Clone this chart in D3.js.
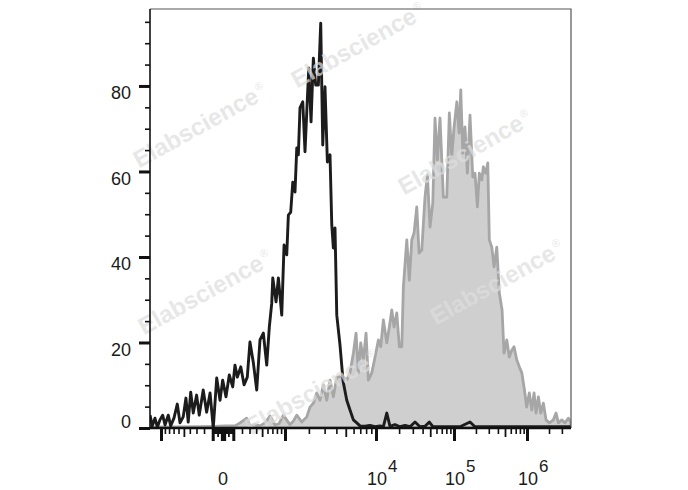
<!DOCTYPE html>
<html><head><meta charset="utf-8">
<script src="https://cdn.jsdelivr.net/npm/d3@7"></script>
<style>body{margin:0;background:#fff;} svg{display:block;}</style>
</head><body>
<script>
// ---- data (fluorescence intensity vs. % of max) ----
const isoX = [-1323,-1250,-1170,-1100,-1028,-956,-897,-819,-764,-692,-624,-571,-512,-464,-426,-386,-347,-298,-262,-210,-168,-129,-94,-59,-27,-3,27,59,94,118,145,185,226,269,306,355,409,463,522,585,636,686,708,780,834,916,975,1057,1112,1195,1271,1358,1429,1496,1567,1693,1801,1889,1993,2118,2251,2394,2561,2720,2863,3028,3212,3427,3578,3719,3870,4038,4363,4692,5119,5522,5971,6459,6958,7800,8737,9780,11290,12500,13850,15250,17700,20540,23815,27600,31985,37045,42895,48700,54000,66500,89000,120900,165800,194100,311500,584900,1099000,2062000,4000000];
const isoY = [3.0,0.5,2.3,0.2,1.9,3.0,0.7,3.0,0.5,2.3,5.6,1.2,2.6,7.0,1.4,8.4,3.5,7.7,3.0,8.9,3.7,8.2,0,11.7,6.5,11.2,7.3,12.4,9.6,14.7,11.9,14.3,10.1,11.9,20.1,15.4,8.9,20.6,22.2,14.7,23.6,29.2,35.1,29.5,35.1,26.4,42.8,40.5,49.8,50.5,57.5,55.2,65.5,63.9,74.9,76.3,64.6,73.9,84.2,71.6,86.5,80.2,80.2,94.7,66.2,79.8,62.2,63.9,47.5,42.1,46.8,26.4,19.4,11.0,6.5,4.2,1.9,1.2,0.5,0.4,0.6,0.3,0.5,0.3,3.5,0.4,0.8,0.3,0.6,0.3,1.4,0.3,0.4,1.4,0.3,0.3,0.3,0.3,1.4,0.3,0.3,0.3,0.3,0.3,0.3];

const stainX = [-1323,-252,-76,18,118,176,261,306,381,463,552,650,757,850,957,1169,1282,1429,1647,1889,2060,2251,2458,2670,2906,3164,3427,3719,4038,4363,4725,5119,5522,5971,6353,6701,7076,7514,7987,8418,9095,9790,10742,11547,12501,13850,15250,16083,17210,18666,20142,21654,22702,25102,27070,29091,31108,33705,36033,39034,42895,46007,49660,53880,57475,61627,66500,73397,81047,87313,93675,100000,109405,117417,123798,132078,141600,152732,165800,181082,194100,209372,222652,240458,252842,272370,290570,305130,329588,354060,385848,418192,456020,485140,528668,572972,618832,664740,724378,785062,849631,923400,990000,1076000,1163000,1249000,1330000,1431000,1541000,1675000,1822000,2020000,2294000,2496000,2685000,2989000,3307000,3685000,3980000];
const stainY = [0.2,0.3,0.4,0.5,0.5,1.2,2.3,0.5,0.8,0.5,1.2,2.8,0.7,1.0,3.0,0.8,1.5,3.0,1.4,2.6,4.9,5.8,8.2,6.5,10.1,6.5,11.2,7.3,11.9,12.0,11.9,11.2,12.9,17.5,22.2,12.9,19.9,15.9,22.2,11.2,12.9,16.6,20.6,19.0,25.3,19.9,24.6,27.6,23.6,26.9,19.0,19.0,33.0,44.0,34.6,44.0,45.6,51.7,40.9,41.6,54.0,59.2,47.0,52.6,72.5,62.7,72.5,54.0,54.0,73.7,63.4,70.2,76.3,69.0,79.1,64.3,70.4,59.6,73.2,58.7,59.6,51.7,59.6,58.0,61.1,59.6,62.0,44.0,42.3,37.7,42.3,31.6,27.6,17.5,20.6,16.6,18.2,19.0,15.9,14.3,12.9,8.9,4.9,8.2,4.2,8.2,3.5,7.3,3.5,5.8,1.9,1.2,1.9,3.5,1.2,1.9,1.2,2.3,1.2];

const yTicks = [0, 20, 40, 60, 80];
const yMinorTicks = [5,10,15,25,30,35,45,50,55,65,70,75,85,90,95];
const xMajorTicks = [-1000, -100, -10, 0, 10, 100, 1000, 1e4, 1e5, 1e6];
const xLabelValues = [0, 1e4, 1e5, 1e6];
const xLabelBase = ["0", "10", "10", "10"];
const xLabelExp = ["", "4", "5", "6"];
const watermarkText = "Elabscience";

// ---- layout ----
const W = 688, H = 490;
const L = 150, R = 571, T = 9, B = 428;
const FONT = "'Liberation Sans', Arial, Helvetica, sans-serif";

const svg = d3.select("body").append("svg").attr("width", W).attr("height", H);

const x = d3.scaleSymlog().constant(500)
  .domain([-1000, 0, 1000, 1e4, 1e5, 1e6])
  .range([161, 223, 285, 376, 454, 527]);
const y = d3.scaleLinear().domain([0, 98]).range([B, T]);

svg.append("defs").append("clipPath").attr("id", "clip")
  .append("rect").attr("x", L).attr("y", T).attr("width", R - L).attr("height", B - T + 1);

const stain = stainX.map((v, i) => [v, stainY[i]]);
const iso = isoX.map((v, i) => [v, isoY[i]]);

const plot = svg.append("g").attr("clip-path", "url(#clip)");

plot.append("path").datum(stain)
  .attr("d", d3.area().x(d => x(d[0])).y0(y(0)).y1(d => y(d[1])))
  .attr("fill", "#cfcfcf").attr("stroke", "#a6a6a6").attr("stroke-width", 2.8)
  .attr("stroke-linejoin", "round");

// watermark
const wmPos = [[358, 45], [200, 125], [465, 152], [205, 292], [497, 282], [312, 392]];
wmPos.forEach(p => {
  const t = svg.append("text")
    .attr("transform", `translate(${p[0]},${p[1]}) rotate(-29)`)
    .attr("text-anchor", "middle").attr("dy", "0.35em")
    .attr("font-family", FONT).attr("font-weight", "bold").attr("font-size", 24)
    .attr("fill", "#dedede").attr("fill-opacity", 0.72);
  t.append("tspan").text(watermarkText);
  t.append("tspan").attr("font-size", 11).attr("font-weight", "normal").attr("dy", "-0.9em").attr("dx", 2).text("®");
});

plot.append("path").datum(iso)
  .attr("d", d3.line().x(d => x(d[0])).y(d => y(d[1])))
  .attr("fill", "none").attr("stroke", "#1c1c1c").attr("stroke-width", 2.9)
  .attr("stroke-linejoin", "round");

// frame
svg.append("path").attr("d", `M${L},${T}H${R}V${B}`).attr("fill", "none")
  .attr("stroke", "#555").attr("stroke-width", 1.2);
svg.append("line").attr("x1", L).attr("x2", L).attr("y1", T).attr("y2", B + 1)
  .attr("stroke", "#111").attr("stroke-width", 1.6);
svg.append("line").attr("x1", L).attr("x2", R).attr("y1", B).attr("y2", B)
  .attr("stroke", "#111").attr("stroke-width", 2.4);

// y axis
const yMinor = svg.append("g").attr("transform", `translate(${L},0)`)
  .call(d3.axisLeft(y).tickValues(yMinorTicks).tickSize(5).tickFormat(""));
yMinor.select(".domain").remove();
yMinor.selectAll("line").attr("stroke", "#111").attr("stroke-width", 1.6);

const yMajor = svg.append("g").attr("transform", `translate(${L},0)`)
  .call(d3.axisLeft(y).tickValues(yTicks).tickSize(11).tickPadding(8).tickFormat(d3.format("d")));
yMajor.select(".domain").remove();
yMajor.selectAll("line").attr("stroke", "#111").attr("stroke-width", 3);
yMajor.selectAll("text").attr("font-family", FONT).attr("font-size", 18).attr("fill", "#1a1a1a")
  .attr("x", -19).attr("dy", d => d === 0 ? "-0.04em" : "0.71em");

// x axis minor ticks
const xMinorTicks = [], xMidTicks = [];
for (let p = 1; p <= 6; p++) {
  for (let k = 2; k <= 9; k++) {
    const v = k * Math.pow(10, p);
    (k === 5 ? xMidTicks : xMinorTicks).push(v);
    if (p <= 2) (k === 5 ? xMidTicks : xMinorTicks).push(-v);
  }
}
const xDom = [x.invert(L), x.invert(R)];
const inRange = v => v >= xDom[0] && v <= xDom[1];

function xTickGroup(vals, size, width) {
  const g = svg.append("g").attr("transform", `translate(0,${B})`)
    .call(d3.axisBottom(x).tickValues(vals.filter(inRange)).tickSize(size).tickFormat(""));
  g.select(".domain").remove();
  g.selectAll("line").attr("stroke", "#111").attr("stroke-width", width);
  return g;
}
xTickGroup(xMinorTicks, 6, 1.6);
xTickGroup(xMidTicks, 9, 1.8);
xTickGroup(xMajorTicks, 13, 3);

// x labels
xLabelValues.forEach((v, i) => {
  svg.append("text").attr("x", x(v) + (i === 0 ? 0 : 1)).attr("y", 485)
    .attr("text-anchor", "middle").attr("font-family", FONT).attr("font-size", 18)
    .attr("fill", "#1a1a1a").text(xLabelBase[i]);
  if (xLabelExp[i]) {
    svg.append("text").attr("x", x(v) + 12).attr("y", 472)
      .attr("font-family", FONT).attr("font-size", 17).attr("fill", "#1a1a1a").text(xLabelExp[i]);
  }
});
</script>
</body></html>
